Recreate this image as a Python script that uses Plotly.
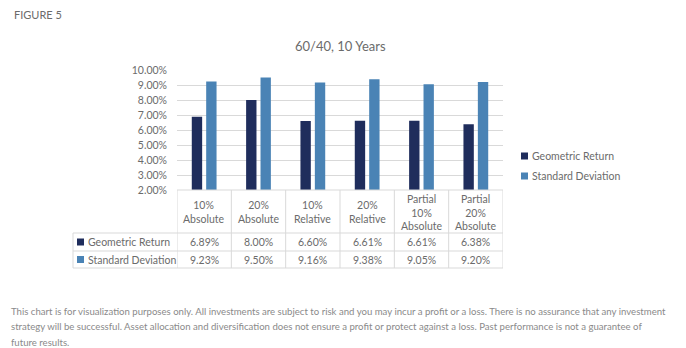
import plotly.graph_objects as go

categories = ["10%<br>Absolute", "20%<br>Absolute", "10%<br>Relative", "20%<br>Relative",
              "Partial<br>10%<br>Absolute", "Partial<br>20%<br>Absolute"]
series_names = ["Geometric Return", "Standard Deviation"]
geometric_return = [6.89, 8.00, 6.60, 6.61, 6.61, 6.38]
standard_deviation = [9.23, 9.50, 9.16, 9.38, 9.05, 9.20]
colors = ["#1f2d5c", "#4a83b5"]
y_ticks = [2, 3, 4, 5, 6, 7, 8, 9, 10]
footer_lines = [
    "This chart is for visualization purposes only. All investments are subject to risk and you may incur a profit or a loss. There is no assurance that any investment",
    "strategy will be successful. Asset allocation and diversification does not ensure a profit or protect against a loss. Past performance is not a guarantee of",
    "future results.",
]

FONT = "Lato"
GRAY = "#6b6b6b"
LINE = "#d9d9d9"

L, R, T, B = 177, 183, 70, 158
W, H = 686, 348
pw, ph = W - L - R, H - T - B

def py(pix):  # pixel y -> paper y
    return (H - B - pix) / ph

def px(pix):  # pixel x -> paper x
    return (pix - L) / pw

xs = list(range(len(categories)))
fig = go.Figure()
for name, vals, c in zip(series_names, [geometric_return, standard_deviation], colors):
    fig.add_trace(go.Bar(x=xs, y=vals, name=name, marker=dict(color=c, line=dict(width=0)),
                         showlegend=False))

shapes = []
ann = []
n = len(categories)
row_y = [py(233), py(251), py(268)]
# vertical table lines
for i in range(n + 1):
    shapes.append(dict(type="line", xref="x", yref="paper", x0=i - 0.5, x1=i - 0.5,
                       y0=0, y1=row_y[2], line=dict(color=LINE, width=1)))
shapes.append(dict(type="line", xref="paper", yref="paper", x0=px(73), x1=px(73),
                   y0=row_y[0], y1=row_y[2], line=dict(color=LINE, width=1)))
# horizontal lines
shapes.append(dict(type="line", xref="paper", yref="paper", x0=0, x1=1, y0=0, y1=0,
                   line=dict(color=LINE, width=1)))
for ry in row_y:
    shapes.append(dict(type="line", xref="paper", yref="paper", x0=px(73), x1=1, y0=ry, y1=ry,
                       line=dict(color=LINE, width=1)))
# header labels
for i, cat in enumerate(categories):
    ann.append(dict(x=i, y=py(212), xref="x", yref="paper", text=cat, showarrow=False,
                    font=dict(family=FONT, size=10.5, color=GRAY), align="center",
                    xanchor="center", yanchor="middle"))
# data rows
for r, (name, vals, c) in enumerate(zip(series_names, [geometric_return, standard_deviation], colors)):
    ymid = (row_y[r] + row_y[r + 1]) / 2
    shapes.append(dict(type="rect", xref="paper", yref="paper", x0=px(77), x1=px(84),
                       y0=ymid - 3.5 / ph, y1=ymid + 3.5 / ph, fillcolor=c, line=dict(width=0)))
    ann.append(dict(x=px(86), y=ymid, xref="paper", yref="paper", text=name, showarrow=False,
                    font=dict(family=FONT, size=10.5, color=GRAY), xanchor="left", yanchor="middle"))
    for i, v in enumerate(vals):
        ann.append(dict(x=i, y=ymid, xref="x", yref="paper", text=f"{v:.2f}%", showarrow=False,
                        font=dict(family=FONT, size=10.5, color=GRAY), xanchor="center", yanchor="middle"))
# legend
for k, (name, c) in enumerate(zip(series_names, colors)):
    ly = py(156 + 20 * k)
    shapes.append(dict(type="rect", xref="paper", yref="paper", x0=px(521), x1=px(528),
                       y0=ly - 3.5 / ph, y1=ly + 3.5 / ph, fillcolor=c, line=dict(width=0)))
    ann.append(dict(x=px(530), y=ly, xref="paper", yref="paper", text=name, showarrow=False,
                    font=dict(family=FONT, size=10.5, color=GRAY), xanchor="left", yanchor="middle"))
# title / figure label / footer
ann.append(dict(x=px(340), y=py(46), xref="paper", yref="paper", text="60/40, 10 Years",
                showarrow=False, font=dict(family=FONT, size=13, color=GRAY),
                xanchor="center", yanchor="middle"))
ann.append(dict(x=px(12), y=py(14), xref="paper", yref="paper", text="FIGURE 5",
                showarrow=False, font=dict(family=FONT, size=11, color=GRAY),
                xanchor="left", yanchor="middle"))
for k, line in enumerate(footer_lines):
    ann.append(dict(x=px(9), y=py(311 + 15.5 * k), xref="paper", yref="paper", text=line,
                    showarrow=False, font=dict(family=FONT, size=9.6, color="#8a8a8a"),
                    xanchor="left", yanchor="middle"))

fig.update_layout(
    width=W, height=H, margin=dict(l=L, r=R, t=T, b=B, autoexpand=False),
    paper_bgcolor="white", plot_bgcolor="white",
    barmode="group", bargap=0.47, bargroupgap=0.28,
    xaxis=dict(range=[-0.5, n - 0.5], showticklabels=False, showgrid=False, zeroline=False,
               showline=False, ticks=""),
    yaxis=dict(range=[2, 10], tickvals=y_ticks, ticktext=[f"{v:.2f}%" for v in y_ticks],
               showgrid=True, gridcolor=LINE, gridwidth=1, zeroline=False, showline=False,
               tickfont=dict(family=FONT, size=10.5, color=GRAY), ticks="",
               ticklabelstandoff=9),
    shapes=shapes, annotations=ann, showlegend=False,
    font=dict(family=FONT),
)
fig.write_html("out.html")
